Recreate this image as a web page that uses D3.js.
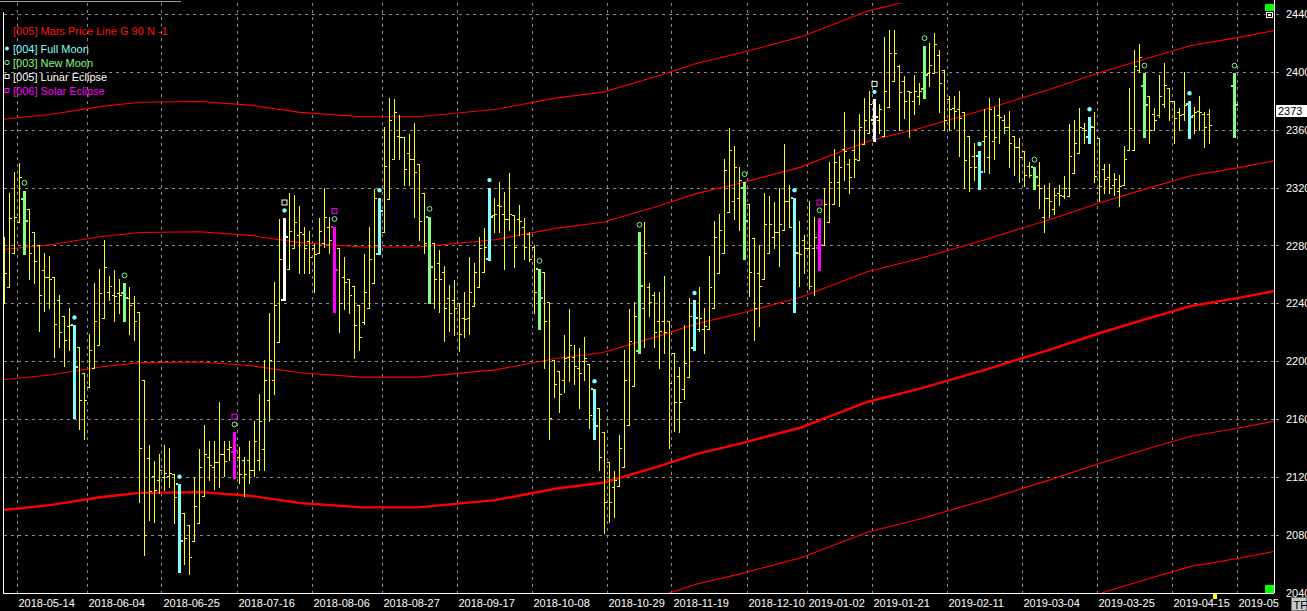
<!DOCTYPE html>
<html><head><meta charset="utf-8">
<script src="https://cdn.jsdelivr.net/npm/d3@7"></script>
<style>
html,body{margin:0;padding:0;background:#000;overflow:hidden}
svg{display:block;font-family:"Liberation Sans",Arial,sans-serif}
</style></head><body>
<svg id="c" width="1307" height="611"></svg>
<script>
// ---- data (bar index 0..246; null = no bar) ----
const openV = [2241,2251,2275,2296,2312,2305,2289,2280,2263,2258,2258,2242,2231,2224,2225,2210,2192,2182,2195,2211,
2230,2248,2246,2247,2247,2244,2240,2234,2187,2133,2121,2118,2120,2121,2122,2115,2095,2087,2076,2088,
2107,2134,2127,2130,2136,2139,2137,2134,2132,2132,2125,2132,2139,2173,2187,2213,2242,2264,2278,2287,
2288,2283,2278,2275,2282,2293,2293,2278,2258,2257,2252,2239,2227,2237,2254,2274,2289,2312,2340,2356,
2355,2344,2340,2336,2316,2300,2282,2268,2262,2244,2242,2240,2230,2230,2238,2251,2262,2271,2301,2308,
2302,2298,2301,2298,2293,2288,2279,2264,2262,2241,2201,2193,2187,2203,2203,2195,2200,2198,2181,2168,
2151,2130,2113,2114,2127,2156,2183,2207,2237,2251,2246,2228,2228,2228,2206,2190,2181,2189,2209,2222,
2222,2222,2237,2261,2275,2303,2311,2313,2320,2309,2285,2261,2257,2275,2286,2289,2291,2311,2313,2275,
2284,2278,2278,2278,2280,2296,2309,2324,2347,2336,2346,2339,2350,2358,2367,2367,2356,2376,2394,2404,
2394,2387,2380,2383,2388,2399,2399,2412,2401,2381,2375,2374,2372,2356,2342,2342,2352,2341,2352,2370,
2367,2362,2356,2348,2345,2335,2334,2322,2300,2313,2305,2316,2314,2314,2330,2344,2361,2355,2362,2354,
2333,2327,2322,2318,2322,2346,2346,2401,2390,2383,2371,2370,2378,2389,2380,2372,2371,2378,2370,2373,
2371,2371,null,null,null,null,2390];
const highV = [2286,2316,2331,2337,2318,2305,2289,2280,2275,2273,2258,2246,2231,2237,2225,2210,2192,2219,2254,2264,
2284,2259,2263,2257,2254,2251,2245,2234,2187,2142,2131,2136,2142,2140,2122,2115,2095,2087,2120,2139,
2156,2145,2145,2172,2145,2145,2151,2141,2134,2145,2159,2177,2201,2233,2255,2298,2299,2316,2315,2307,
2293,2290,2281,2299,2320,2300,2293,2278,2272,2257,2252,2239,2274,2293,2319,2313,2362,2382,2381,2370,
2355,2357,2365,2336,2316,2300,2282,2277,2266,2253,2256,2240,2248,2272,2268,2286,2292,2320,2313,2324,
2317,2330,2301,2308,2299,2289,2280,2264,2262,2241,2201,2193,2218,2236,2211,2209,2217,2198,2181,2168,
2151,2130,2124,2149,2208,2236,2241,2289,2296,2254,2248,2248,2259,2228,2206,2196,2225,2244,2242,2251,
2237,2273,2297,2302,2340,2361,2349,2334,2324,2309,2285,2280,2316,2314,2310,2320,2350,2322,2313,2297,
2287,2311,2300,2299,2320,2338,2347,2342,2372,2340,2360,2371,2382,2387,2381,2378,2424,2429,2429,2405,
2397,2387,2398,2392,2418,2420,2427,2415,2401,2383,2383,2387,2372,2356,2351,2345,2374,2382,2376,2382,
2370,2373,2356,2354,2345,2338,2334,2338,2322,2323,2320,2322,2328,2364,2367,2375,2365,2369,2372,2354,
2336,2336,2330,2329,2349,2389,2415,2419,2399,2383,2375,2398,2406,2389,2380,2375,2400,2380,2376,2383,
2372,2374,null,null,null,null,2399];
const lowV = [2240,2251,2275,2296,2274,2257,2254,2221,2235,2237,2203,2210,2197,2208,2161,2153,2146,2182,2195,2211,
2230,2242,2228,2233,2228,2219,2215,2103,2066,2090,2089,2109,2111,2113,2088,2054,2060,2053,2076,2088,
2107,2118,2112,2113,2121,2132,2119,2116,2107,2116,2121,2125,2125,2159,2177,2213,2242,2264,2278,2261,
2261,2261,2248,2275,2279,2275,2234,2220,2236,2233,2202,2208,2226,2237,2254,2274,2289,2312,2340,2340,
2322,2322,2300,2284,2275,2240,2237,2234,2214,2221,2218,2207,2217,2219,2238,2251,2262,2270,2289,2289,
2264,2291,2265,2287,2271,2269,2233,2222,2195,2146,2175,2165,2179,2186,2184,2168,2187,2154,2146,2125,
2081,2089,2092,2114,2127,2156,2183,2206,2210,2231,2210,2195,2206,2140,2152,2151,2174,2189,2208,2221,
2206,2222,2237,2261,2275,2303,2298,2291,2271,2245,2215,2224,2257,2275,2278,2266,2291,2293,2234,2252,
2261,2250,2246,2263,2280,2296,2309,2307,2325,2316,2327,2339,2350,2358,2352,2358,2356,2376,2394,2360,
2368,2355,2371,2378,2382,2390,2399,2372,2360,2360,2361,2342,2320,2318,2325,2319,2331,2330,2340,2351,
2358,2334,2329,2324,2321,2327,2319,2306,2289,2300,2302,2308,2313,2314,2330,2344,2351,2351,2324,2311,
2316,2316,2315,2307,2322,2346,2346,2400,2355,2351,2360,2369,2376,2367,2351,2360,2367,2354,2358,2360,
2348,2351,null,null,null,null,2355];
const closeV = [2261,2299,2300,2327,2297,2275,2269,2246,2258,2257,2226,2220,2215,2225,2196,2173,2173,2208,2228,2247,
2265,2252,2245,2246,2244,2239,2228,2140,2080,2110,2111,2125,2123,2123,2106,2076,2078,2065,2100,2127,
2136,2128,2130,2136,2131,2141,2138,2122,2122,2125,2145,2159,2187,2201,2239,2271,2286,2290,2296,2289,
2278,2272,2274,2290,2300,2284,2263,2240,2255,2246,2225,2217,2248,2271,2313,2304,2335,2367,2372,2355,
2333,2340,2331,2297,2282,2265,2257,2257,2237,2233,2237,2219,2229,2248,2262,2278,2279,2300,2302,2307,
2298,2302,2279,2297,2279,2271,2248,2244,2228,2161,2184,2177,2202,2211,2197,2192,2202,2163,2155,2134,
2103,2103,2118,2140,2187,2214,2231,2252,2275,2241,2220,2221,2220,2185,2172,2172,2199,2231,2230,2230,
2224,2251,2286,2291,2332,2346,2334,2325,2297,2262,2237,2252,2295,2295,2289,2295,2311,2293,2275,2274,
2278,2252,2286,2280,2309,2324,2338,2334,2345,2327,2340,2362,2367,2378,2369,2374,2387,2413,2413,2386,
2380,2386,2387,2387,2398,2405,2419,2392,2367,2374,2373,2368,2339,2334,2334,2331,2356,2374,2355,2369,
2362,2351,2348,2341,2329,2329,2327,2320,2313,2311,2315,2315,2320,2342,2351,2362,2360,2362,2328,2321,
2326,2320,2326,2321,2340,2361,2404,2410,2377,2360,2367,2383,2391,2380,2368,2370,2377,2369,2372,2372,
2362,2363,null,null,null,null,2377];

const fullMoonBars = [14,35,75,97,118,138,158,195,217,237];
const newMoonBars = [4,24,85,107,127,148,184,206,228,246];
const lunarEclipseBars = [56,174];
const solarEclipseBars = [46,66,163];

// Mars price line (bar index, price) and grid offsets
const marsIdx = [-0.8,9.2,19.2,27.2,39.2,49.2,59.2,71.6,82.8,98.2,110.6,119.8,130.6,138.6,147.2,159.2,172.8,183.2,196.2,209.2,219.2,229.2,237.2,247.2,254];
const marsVal = [2097,2100.5,2106,2109,2109.5,2107,2102,2099,2099,2104,2112,2116,2127,2136,2143,2154,2172,2181,2194,2208,2219.5,2230,2238,2244,2248.5];
const marsOffsets = [-180,-90,0,90,180,270];

const tickIdx = [3,17,32,47,62,76,91,106,121,134,149,161,174,189,204,219,234,247];
const tickLabels = ["2018-05-14","2018-06-04","2018-06-25","2018-07-16","2018-08-06","2018-08-27","2018-09-17","2018-10-08","2018-10-29","2018-11-19","2018-12-10","2019-01-02","2019-01-21","2019-02-11","2019-03-04","2019-03-25","2019-04-15","2019-05"];
const priceTicks = [2040,2080,2120,2160,2200,2240,2280,2320,2360,2400,2440];
const lastPrice = 2373;

const legendItems = [
  {text:"[005] Mars Price Line G 90 N -1", color:"#ff1010", marker:null},
  {text:"[004] Full Moon", color:"#80ffff", marker:"dot"},
  {text:"[003] New Moon", color:"#80ff80", marker:"circle"},
  {text:"[005] Lunar Eclipse", color:"#ffffff", marker:"square"},
  {text:"[006] Solar Eclipse", color:"#ff00ff", marker:"square"}
];

// ---- drawing ----
const svg = d3.select("#c");
const P = {left:3, right:1274, top:3, bottom:593};
const x = d3.scaleLinear().domain([0,254]).range([4,1274]);
const xg = d3.scaleLinear().domain([0,254]).range([1.5,1271.5]);
const y = d3.scaleLinear().domain([2040,2440]).range([592.7,14]);

svg.append("rect").attr("width",1307).attr("height",611).attr("fill","#000");
svg.append("defs").append("clipPath").attr("id","clip")
  .append("rect").attr("x",P.left).attr("y",P.top).attr("width",P.right-P.left).attr("height",P.bottom-P.top);

const grid = svg.append("g").attr("stroke","#8a8a8a").attr("stroke-dasharray","3,4").attr("shape-rendering","crispEdges");
priceTicks.filter(v=>v>2040).forEach(v=>{
  const yy = Math.round(y(v))+0.5;
  grid.append("line").attr("x1",P.left+1).attr("x2",P.right).attr("y1",yy).attr("y2",yy);
  grid.append("line").attr("x1",P.right+2).attr("x2",P.right+7).attr("y1",yy).attr("y2",yy).attr("stroke-dasharray",null);
});
tickIdx.forEach(i=>{
  const xx = Math.round(xg(i))+0.5;
  grid.append("line").attr("x1",xx).attr("x2",xx).attr("y1",P.top).attr("y2",P.bottom);
});

// Mars lines
const marsPts = marsIdx.map((d,k)=>({i:d,v:marsVal[k]}));
const mg = svg.append("g").attr("clip-path","url(#clip)");
marsOffsets.forEach(off=>{
  mg.append("path").datum(marsPts)
    .attr("fill","none").attr("stroke","#ff0000")
    .attr("stroke-width", off===0 ? 2.4 : 1.1)
    .attr("d", d3.line().x(d=>x(d.i)).y(d=>y(d.v+off)));
});

// bars
const typeOf = i => lunarEclipseBars.includes(i) ? "lunar" : solarEclipseBars.includes(i) ? "solar"
  : fullMoonBars.includes(i) ? "full" : newMoonBars.includes(i) ? "new" : "norm";
const colors = {norm:"#ffff00", full:"#80ffff", new:"#80ff80", lunar:"#ffffff", solar:"#ff00ff"};
const bars = d3.range(openV.length).filter(i=>openV[i]!=null)
  .map(i=>({i,o:openV[i],h:highV[i],l:lowV[i],c:closeV[i],t:typeOf(i)}));
const bg = svg.append("g").attr("shape-rendering","crispEdges").attr("clip-path","url(#clip)");
bars.forEach(b=>{
  const cx = Math.round(x(b.i));
  const col = colors[b.t];
  const yh = Math.round(y(b.h)), yl = Math.round(y(b.l)), yo = Math.round(y(b.o)), yc = Math.round(y(b.c));
  if (b.t==="norm") {
    bg.append("rect").attr("x",cx).attr("y",yh).attr("width",1).attr("height",Math.max(1,yl-yh+1)).attr("fill",col);
    bg.append("rect").attr("x",cx-2).attr("y",yo).attr("width",2).attr("height",1).attr("fill",col);
    bg.append("rect").attr("x",cx+1).attr("y",yc).attr("width",2).attr("height",1).attr("fill",col);
  } else {
    bg.append("rect").attr("x",cx-1).attr("y",yh).attr("width",3).attr("height",Math.max(1,yl-yh+1)).attr("fill",col);
    bg.append("rect").attr("x",cx-3).attr("y",yo-1).attr("width",2).attr("height",2).attr("fill",col);
    bg.append("rect").attr("x",cx+2).attr("y",yc-1).attr("width",2).attr("height",2).attr("fill",col);
  }
});
// event markers above bars
const mk = svg.append("g").attr("clip-path","url(#clip)");
bars.forEach(b=>{
  const cx = Math.round(x(b.i))+0.5;
  const yh = y(b.h);
  if (b.t==="full" || b.t==="lunar") {
    mk.append("circle").attr("cx",cx).attr("cy",yh-7.5).attr("r",2.2).attr("fill","#80ffff");
  }
  if (b.t==="new" || b.t==="solar") {
    mk.append("circle").attr("cx",cx).attr("cy",yh-7.7).attr("r",2.4).attr("fill","none").attr("stroke","#80ff80").attr("stroke-width",1);
  }
  if (b.t==="lunar" || b.t==="solar") {
    mk.append("rect").attr("x",cx-2.5).attr("y",yh-18).attr("width",5).attr("height",5)
      .attr("fill","none").attr("stroke",b.t==="lunar"?"#ffffff":"#ff00ff").attr("stroke-width",1);
  }
});

// frame
const fr = svg.append("g").attr("stroke","#ffffff").attr("shape-rendering","crispEdges");
fr.append("line").attr("x1",3.5).attr("x2",3.5).attr("y1",12).attr("y2",P.bottom);
fr.append("line").attr("x1",P.right+0.5).attr("x2",P.right+0.5).attr("y1",0).attr("y2",P.bottom);
fr.append("line").attr("x1",3).attr("x2",P.right).attr("y1",P.bottom+0.5).attr("y2",P.bottom+0.5);
svg.append("line").attr("x1",0).attr("x2",181).attr("y1",1.5).attr("y2",1.5).attr("stroke","#9a9a9a").attr("shape-rendering","crispEdges");

// x axis labels
const xAxis = d3.axisBottom(xg).tickValues(tickIdx).tickFormat((d,k)=>tickLabels[k]).tickSize(0).tickPadding(0);
const xa = svg.append("g").attr("transform",`translate(0,${P.bottom})`).call(xAxis);
xa.select(".domain").remove();
xa.selectAll("text").attr("fill","#ffffff").attr("font-size","11px").attr("font-family","Liberation Sans, Arial, sans-serif")
  .attr("text-anchor","start").attr("dx","1.5").attr("dy",null).attr("y",14);

// y axis labels
const yAxis = d3.axisRight(y).tickValues(priceTicks).tickFormat(d3.format("d")).tickSize(0).tickPadding(0);
const ya = svg.append("g").attr("transform",`translate(${P.right+12},0)`).call(yAxis);
ya.select(".domain").remove();
ya.selectAll("text").attr("fill","#ffffff").attr("font-size","11px").attr("font-family","Liberation Sans, Arial, sans-serif").attr("x",0);

// last price box
const ly = y(lastPrice);
svg.append("rect").attr("x",P.right+2).attr("y",Math.round(ly)-6).attr("width",1307-P.right-2).attr("height",12).attr("fill","#ffffff");
svg.append("text").attr("x",P.right+4).attr("y",Math.round(ly)+4).attr("font-size","11px").attr("fill","#000").text(lastPrice);

// legend
const lg = svg.append("g").attr("font-size","11px");
const legY = [31,48.5,62.5,76.5,90.5];
legendItems.forEach((it,k)=>{
  lg.append("text").attr("x",13).attr("y",legY[k]+4).attr("fill",it.color).text(it.text);
  if (it.marker==="dot") lg.append("circle").attr("cx",7).attr("cy",legY[k]).attr("r",2).attr("fill",it.color);
  if (it.marker==="circle") lg.append("circle").attr("cx",7).attr("cy",legY[k]).attr("r",2.2).attr("fill","none").attr("stroke",it.color);
  if (it.marker==="square") lg.append("rect").attr("x",5).attr("y",legY[k]-2).attr("width",4).attr("height",4).attr("fill","none").attr("stroke",it.color);
});

// corner widgets
svg.append("rect").attr("x",1265).attr("y",4).attr("width",9).attr("height",7).attr("fill","#00ff00");
svg.append("rect").attr("x",1266.5).attr("y",12.5).attr("width",6).attr("height",5).attr("fill","#000").attr("stroke","#fff");
svg.append("rect").attr("x",1268).attr("y",14).attr("width",3).attr("height",2).attr("fill","#fff");
svg.append("rect").attr("x",1265).attr("y",585).attr("width",9).attr("height",8).attr("fill","#00ff00");
svg.append("rect").attr("x",1213).attr("y",594).attr("width",4).attr("height",5).attr("fill","#ffff00");
svg.append("rect").attr("x",1291.5).attr("y",597.5).attr("width",15).attr("height",13).attr("fill","#c8c8c8").attr("stroke","#707070");
svg.append("text").attr("x",1293.5).attr("y",608.5).attr("font-size","11px").attr("fill","#000").text("TF");
</script>
</body></html>
